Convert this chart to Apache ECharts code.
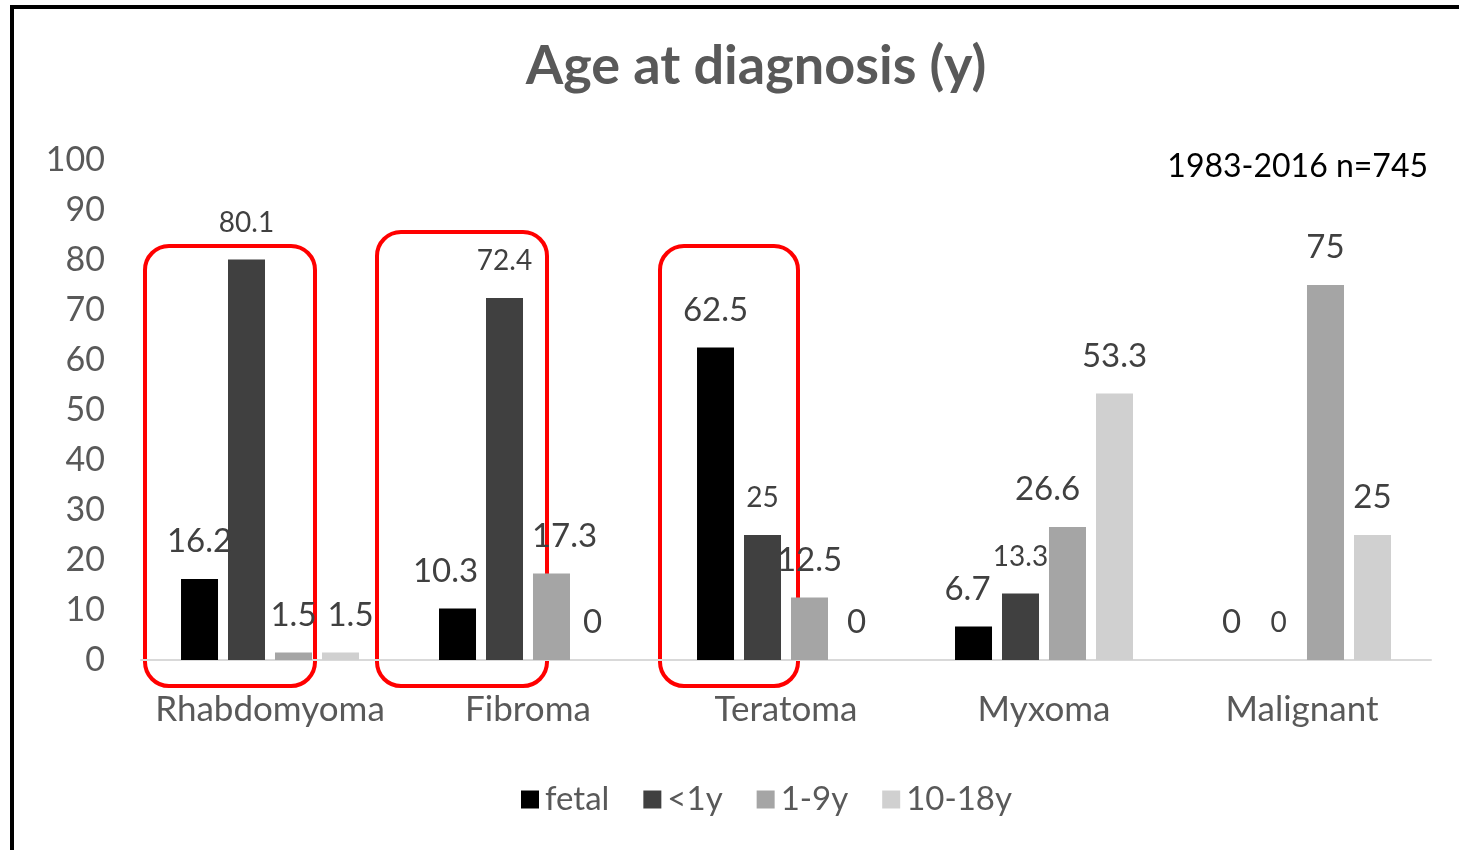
<!DOCTYPE html>
<html>
<head>
<meta charset="utf-8">
<script src="https://cdn.jsdelivr.net/npm/echarts@6/dist/echarts.min.js"></script>
<style>
  html, body { margin: 0; padding: 0; background: #fff; }
  #chart { width: 1459px; height: 850px; }
</style>
</head>
<body>
<div id="chart"></div>
<script>
// Age at diagnosis of cardiac tumours, percentage per age band
const categories = ['Rhabdomyoma', 'Fibroma', 'Teratoma', 'Myxoma', 'Malignant'];
const ageBands = ['fetal', '<1y', '1-9y', '10-18y'];
const fetal  = [16.2, 10.3, 62.5, 6.7, 0];
const under1 = [80.1, 72.4, 25, 13.3, 0];
const age1to9 = [1.5, 17.3, 12.5, 26.6, 75];
const age10to18 = [1.5, 0, 0, 53.3, 25];
const yTicks = [0, 10, 20, 30, 40, 50, 60, 70, 80, 90, 100];

const seriesValues = [fetal, under1, age1to9, age10to18];
const bandColors = ['#000000', '#404040', '#a5a5a5', '#d0d0d0'];
const labelSizes = [33, 28, 33, 33];
const labelDistances = [21, 23, 21, 21];

// small horizontal nudges for a few crowded value labels: [series, category, dx]
const labelNudges = [[0, 1, -12], [2, 1, 13], [2, 3, -20], [3, 0, 10], [3, 1, -6], [0, 3, -6]];

const FONT = 'Lato, "Open Sans", sans-serif';
const chart = echarts.init(document.getElementById('chart'), null, { renderer: 'canvas' });

const series = seriesValues.map((vals, si) => ({
  name: ageBands[si],
  type: 'bar',
  barWidth: 37,
  barGap: '27%',
  itemStyle: { color: bandColors[si] },
  label: {
    show: true,
    position: 'top',
    distance: labelDistances[si],
    color: '#404040',
    fontFamily: FONT,
    fontSize: labelSizes[si]
  },
  data: vals.map((v, ci) => {
    const n = labelNudges.find(d => d[0] === si && d[1] === ci);
    return n ? { value: v, label: { offset: [n[2], 0] } } : v;
  })
}));

chart.setOption({
  backgroundColor: '#ffffff',
  animation: false,
  title: {
    text: 'Age at diagnosis (y)',
    left: 751,
    top: 35,
    textAlign: 'center',
    textStyle: { fontFamily: FONT, fontWeight: 'bold', fontSize: 54, color: '#595959' }
  },
  legend: {
    data: ageBands,
    left: 516,
    top: 778,
    icon: 'rect',
    itemWidth: 18,
    itemHeight: 18,
    itemGap: 34,
    textStyle: { fontFamily: FONT, fontSize: 33, color: '#595959', padding: [0, 0, 0, 1] }
  },
  grid: { left: 141, right: 28, top: 160, height: 500, containLabel: false },
  xAxis: {
    type: 'category',
    data: categories,
    axisLine: { lineStyle: { color: '#d9d9d9', width: 2 } },
    axisTick: { show: false },
    axisLabel: { interval: 0, hideOverlap: false, fontFamily: FONT, fontSize: 35, color: '#595959', margin: 32 }
  },
  yAxis: {
    type: 'value',
    min: yTicks[0],
    max: yTicks[yTicks.length - 1],
    interval: 10,
    axisLine: { show: false },
    axisTick: { show: false },
    splitLine: { show: false },
    axisLabel: { fontFamily: FONT, fontSize: 34, color: '#595959', margin: 36, padding: [5, 0, 0, 0] }
  },
  series: series
});

// frame, note and highlight boxes around the first three tumour types
const px = (cat) => chart.convertToPixel({ xAxisIndex: 0 }, cat);
const py = (v) => chart.convertToPixel({ yAxisIndex: 0 }, v);
const boxes = [
  { cat: 'Rhabdomyoma', dxL: -125, dxR: 45, top: 82.8 },
  { cat: 'Fibroma', dxL: -151, dxR: 19, top: 85.6 },
  { cat: 'Teratoma', dxL: -126, dxR: 12, top: 82.8 }
];
const graphics = [
  { type: 'rect', shape: { x: 12, y: 7, width: 1500, height: 900 }, style: { fill: null, stroke: '#000', lineWidth: 4 }, silent: true },
  { type: 'text', style: { text: '1983-2016 n=745', x: 1428, y: 167, align: 'right', verticalAlign: 'middle', fontFamily: FONT, fontSize: 32, fill: '#000' } }
];
boxes.forEach(b => {
  const cx = px(b.cat);
  const yt = py(b.top);
  const yb = py(-5.2);
  graphics.push({
    type: 'rect',
    shape: { x: cx + b.dxL, y: yt, width: b.dxR - b.dxL, height: yb - yt, r: 24 },
    style: { fill: null, stroke: '#ff0000', lineWidth: 4 },
    silent: true
  });
});
chart.setOption({ graphic: graphics });
</script>
</body>
</html>
